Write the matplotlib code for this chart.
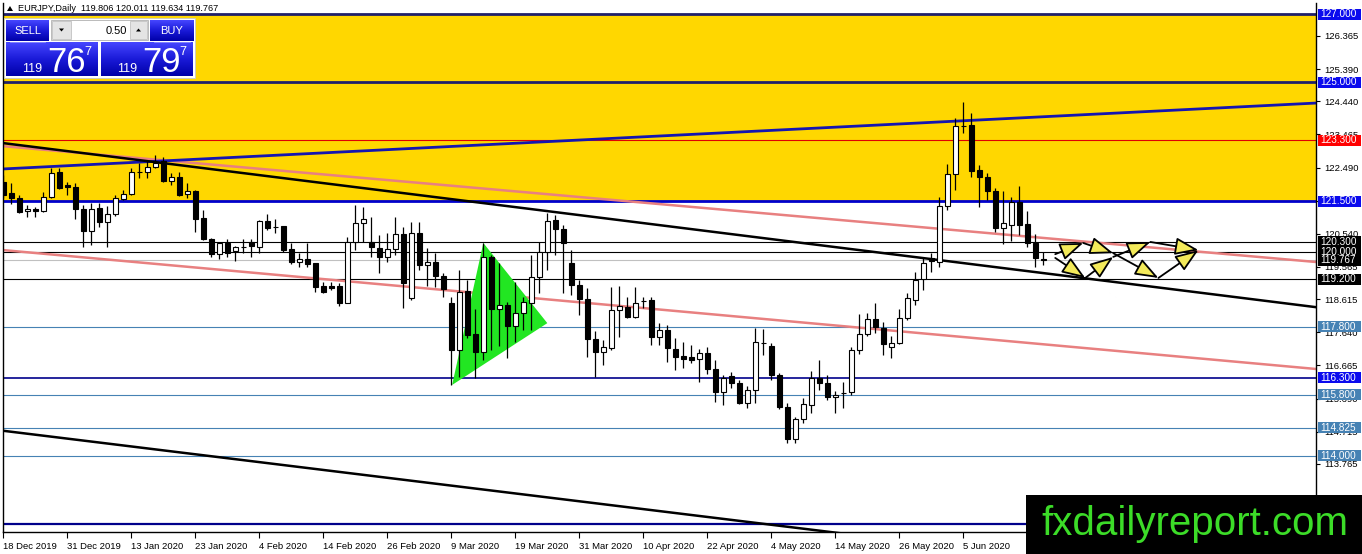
import numpy as np
import matplotlib
matplotlib.use("Agg")
import matplotlib.pyplot as plt
from matplotlib.patches import Rectangle, Polygon, FancyArrowPatch
from matplotlib.colors import LinearSegmentedColormap
from matplotlib.transforms import blended_transform_factory

# ---------------- data ----------------
date_labels = ['18 Dec 2019', '31 Dec 2019', '13 Jan 2020', '23 Jan 2020', '4 Feb 2020',
               '14 Feb 2020', '26 Feb 2020', '9 Mar 2020', '19 Mar 2020', '31 Mar 2020',
               '10 Apr 2020', '22 Apr 2020', '4 May 2020', '14 May 2020', '26 May 2020',
               '5 Jun 2020']

opens = [122.07, 121.74, 121.59, 121.21, 121.27, 121.21, 121.62, 122.36, 121.98, 121.92,
         121.27, 120.62, 121.30, 120.89, 121.12, 121.56, 121.71, 122.35, 122.36, 122.51,
         122.68, 122.10, 122.21, 121.71, 121.80, 121.01, 120.39, 119.94, 120.27, 120.03,
         120.15, 120.30, 120.15, 120.92, 120.74, 120.77, 120.09, 119.71, 119.80, 119.68,
         119.00, 119.00, 119.00, 118.50, 120.30, 120.86, 120.30, 120.12, 119.86, 120.09,
         120.53, 118.65, 120.56, 119.62, 119.71, 119.30, 118.50, 117.12, 118.86, 117.59,
         117.06, 119.86, 118.33, 118.45, 117.83, 118.21, 118.50, 119.27, 120.00, 120.95,
         120.68, 119.68, 119.03, 118.62, 117.45, 117.06, 117.18, 118.30, 118.39, 118.09,
         118.55, 118.59, 117.51, 117.71, 117.15, 116.95, 116.92, 116.86, 117.03, 116.56,
         115.89, 116.36, 116.15, 115.56, 115.94, 117.33, 117.24, 116.39, 115.44, 114.50,
         115.09, 115.50, 116.30, 116.15, 115.74, 115.85, 115.89, 117.12, 117.59, 118.03,
         117.77, 117.21, 117.33, 118.06, 118.59, 119.21, 119.83, 119.71, 121.36, 122.30,
         123.71, 123.74, 122.42, 122.21, 121.80, 120.71, 120.80, 121.48, 120.83, 120.27,
         119.806]
highs = [122.27, 122.04, 121.68, 121.39, 121.33, 121.77, 122.48, 122.48, 122.07, 122.04,
         121.39, 121.45, 121.45, 121.36, 121.68, 121.83, 122.48, 122.62, 122.68, 122.86,
         122.80, 122.33, 122.36, 122.04, 121.83, 121.24, 120.42, 120.30, 120.39, 120.18,
         120.39, 120.39, 120.95, 121.12, 120.98, 120.77, 120.27, 119.97, 120.27, 119.68,
         119.12, 119.12, 119.09, 120.45, 121.39, 121.33, 121.03, 120.51, 120.56, 121.03,
         120.74, 120.89, 120.89, 120.12, 119.97, 119.39, 118.68, 119.48, 119.18, 118.33,
         120.27, 119.92, 119.68, 118.53, 119.12, 118.68, 119.92, 120.30, 121.15, 121.09,
         120.80, 120.06, 119.18, 118.95, 117.68, 117.42, 118.97, 119.00, 118.68, 118.97,
         118.68, 118.68, 117.92, 117.86, 117.48, 117.36, 117.27, 117.15, 117.21, 116.83,
         116.39, 116.47, 116.24, 116.06, 117.77, 117.74, 117.33, 116.45, 115.56, 115.15,
         115.71, 116.50, 116.83, 116.39, 115.91, 116.18, 117.21, 118.18, 118.21, 118.50,
         117.95, 117.54, 118.33, 118.80, 119.42, 119.86, 119.97, 121.62, 122.60, 123.95,
         124.42, 124.10, 122.57, 122.33, 121.89, 121.80, 121.62, 121.95, 121.21, 120.53,
         120.011]
lows = [121.59, 121.42, 121.15, 121.03, 121.03, 121.18, 121.59, 121.86, 121.68, 120.98,
        120.15, 120.21, 120.74, 120.15, 121.06, 121.54, 121.68, 122.19, 122.19, 122.48,
        122.07, 121.98, 121.65, 121.59, 120.59, 120.36, 119.86, 119.80, 119.86, 119.74,
        119.97, 119.86, 119.97, 120.65, 120.56, 120.00, 119.65, 119.56, 119.56, 118.83,
        118.80, 118.89, 118.41, 118.50, 120.06, 120.30, 119.86, 119.39, 119.71, 119.91,
        118.36, 118.59, 119.48, 119.00, 118.97, 118.68, 116.09, 116.33, 117.48, 116.30,
        116.83, 117.12, 117.24, 116.89, 117.36, 117.71, 117.71, 118.80, 119.48, 119.91,
        118.80, 118.74, 118.15, 116.92, 116.33, 116.68, 117.12, 117.51, 118.06, 118.06,
        118.36, 117.27, 117.27, 116.77, 116.53, 116.59, 116.74, 116.18, 116.42, 115.59,
        115.50, 116.00, 115.53, 115.42, 115.56, 116.97, 116.24, 115.38, 114.38, 114.38,
        114.97, 115.27, 115.94, 115.65, 115.27, 115.42, 115.80, 117.00, 117.53, 117.62,
        116.97, 116.89, 117.30, 118.00, 118.45, 118.89, 119.42, 119.56, 121.24, 121.83,
        123.51, 122.21, 121.33, 121.54, 120.59, 120.24, 120.33, 120.50, 120.15, 119.56,
        119.634]
closes = [121.68, 121.59, 121.18, 121.27, 121.21, 121.62, 122.33, 121.89, 121.92, 121.27,
          120.62, 121.27, 120.89, 121.12, 121.59, 121.71, 122.36, 122.36, 122.51, 122.62,
          122.10, 122.21, 121.68, 121.80, 120.98, 120.39, 119.94, 120.27, 119.97, 120.15,
          120.14, 120.18, 120.92, 120.71, 120.73, 120.06, 119.71, 119.80, 119.65, 118.97,
          118.83, 118.94, 118.50, 120.30, 120.86, 120.98, 120.15, 119.86, 120.09, 120.53,
          119.09, 120.56, 119.62, 119.71, 119.30, 118.92, 117.12, 118.83, 117.56, 117.06,
          119.86, 118.33, 118.45, 117.83, 118.21, 118.53, 119.27, 120.00, 120.92, 120.68,
          120.27, 119.03, 118.62, 117.45, 117.06, 117.21, 118.30, 118.42, 118.09, 118.50,
          118.56, 117.51, 117.71, 117.18, 116.92, 116.86, 116.83, 117.03, 116.56, 115.89,
          116.30, 116.15, 115.56, 115.94, 117.36, 117.32, 116.39, 115.44, 114.50, 115.09,
          115.53, 116.30, 116.15, 115.74, 115.80, 115.86, 117.12, 117.59, 118.03, 117.80,
          117.30, 117.33, 118.06, 118.65, 119.18, 119.68, 119.74, 121.36, 122.30, 123.71,
          123.70, 122.39, 122.21, 121.80, 120.71, 120.86, 121.48, 120.80, 120.27, 119.83,
          119.767]

# horizontal levels: value, line colour, line width, label box colour
levels = [127.000, 125.000, 123.300, 121.500, 120.300, 120.000, 119.767, 119.200,
          117.800, 116.300, 115.800, 114.825, 114.000, 112.000]
level_line_colors = ['#20206a', '#20206a', '#e00000', '#0000cc', 'black', 'black', '#c0c0c0',
                     'black', '#4682b4', '#00008b', '#4682b4', '#4682b4', '#4682b4', '#00008b']
level_line_widths = [2.0, 2.0, 0.8, 2.0, 0.8, 0.8, 0.8, 0.8, 0.8, 1.2, 0.8, 0.8, 0.8, 1.6]
level_box_colors = ['#0a0aee', '#0a0aee', '#ff0000', '#0a0aee', 'black', 'black', 'black',
                    'black', '#4682b4', '#0a0aee', '#4682b4', '#4682b4', '#4682b4', '#0a0aee']

ytick_values = [126.365, 125.390, 124.440, 123.465, 122.490, 121.515, 120.540, 119.565,
                118.615, 117.640, 116.665, 115.690, 114.715, 113.765, 112.790]

# trend lines (bar index, price)
trend_x = [0.0, 164.1]
blue_line_y = [122.45, 124.39]
black_upper_y = [123.21, 118.38]
pink_upper_y = [123.12, 119.71]
pink_lower_y = [120.06, 116.56]
black_lower_y = [114.74, 110.01]

# green triangle vertices
tri_x = [56.1, 60.0, 68.0]
tri_y = [116.09, 120.27, 117.91]

# arrows
arrow_x0 = [131.5, 131.5, 135.0, 135.25, 138.75, 138.75, 143.4, 144.4]
arrow_y0 = [119.94, 119.83, 120.27, 119.24, 119.97, 119.86, 120.30, 119.24]
arrow_x1 = [135.0, 135.25, 138.75, 138.75, 144.4, 143.4, 149.4, 149.4]
arrow_y1 = [120.27, 119.24, 119.97, 119.86, 119.24, 120.30, 120.06, 120.06]

# ---------------- figure ----------------
W, H = 1362, 554
fig = plt.figure(figsize=(W / 100, H / 100), dpi=100)
fig.patch.set_facecolor('white')
FONT = 'Liberation Sans'

ax = fig.add_axes([3 / W, 22 / H, 1313 / W, 529 / H])
ax.set_xlim(-0.05, 164.1)
ax.set_ylim(111.76, 127.336)
ax.set_facecolor('white')

# yellow zone
ax.axhspan(121.5, 127.0, color='#ffd700', zorder=0, lw=0)

# horizontal levels and labels (boxes in right margin)
btrans = blended_transform_factory(ax.transAxes, ax.transData)
px_x = 1.0 / 1313.0
px_y = (127.336 - 111.76) / 529.0
for v, lc, lw, bc in zip(levels, level_line_colors, level_line_widths, level_box_colors):
    ax.axhline(v, color=lc, lw=lw, zorder=1)
    ax.add_patch(Rectangle((1 + 2 * px_x, v - 5.5 * px_y), 43 * px_x, 11 * px_y,
                           transform=btrans, fc=bc, ec='none', clip_on=False, zorder=20))
    ax.text(1 + 4 * px_x, v, f'{v:.3f}', transform=btrans, va='center', ha='left',
            color='white', fontsize=7.2, family=FONT, clip_on=False, zorder=21)

# trend lines
ax.plot(trend_x, pink_upper_y, color='#e88080', lw=1.8, zorder=2)
ax.plot(trend_x, pink_lower_y, color='#e88080', lw=1.8, zorder=2)
ax.plot(trend_x, blue_line_y, color='#1515b0', lw=2.0, zorder=2)
ax.plot(trend_x, black_upper_y, color='black', lw=1.8, zorder=2)
ax.plot(trend_x, black_lower_y, color='black', lw=1.8, zorder=2)

# green triangle
ax.add_patch(Polygon(list(zip(tri_x, tri_y)), closed=True, fc='#22e622', ec='none', zorder=2.5))

# candles
x = np.arange(len(opens))
o = np.array(opens); h = np.array(highs); l = np.array(lows); c = np.array(closes)
ax.vlines(x, l, h, color='black', lw=0.9, zorder=3)
bull = c >= o
body_bottom = np.minimum(o, c)
body_h = np.maximum(np.abs(c - o), 0.012)
ax.bar(x[bull], body_h[bull], bottom=body_bottom[bull], width=0.62, color='white',
       edgecolor='black', lw=0.8, zorder=3.5)
ax.bar(x[~bull], body_h[~bull], bottom=body_bottom[~bull], width=0.62, color='black',
       edgecolor='black', lw=0.8, zorder=3.5)

# arrows
for xa, ya, xb, yb in zip(arrow_x0, arrow_y0, arrow_x1, arrow_y1):
    ax.add_patch(FancyArrowPatch((xa, ya), (xb, yb),
                                 arrowstyle='-|>,head_length=1.6,head_width=0.6',
                                 mutation_scale=9, lw=1.3, ec='black', fc='#f3ea5a',
                                 shrinkA=0, shrinkB=0, zorder=5))

# axes styling
ax.spines['top'].set_visible(False)
for s in ['left', 'right', 'bottom']:
    ax.spines[s].set_color('black')
    ax.spines[s].set_linewidth(1.0)

ax.yaxis.tick_right()
ax.set_yticks(ytick_values)
ax.set_yticklabels([f'{v:.3f}' for v in ytick_values], fontsize=6.8, family=FONT)
ax.tick_params(axis='y', length=3, width=0.8, pad=3, colors='black')

ax.set_xticks(np.arange(0, 8 * len(date_labels), 8))
ax.set_xticklabels(date_labels, fontsize=6.8, family=FONT)
for t in ax.get_xticklabels():
    t.set_ha('left')
ax.tick_params(axis='x', length=4, width=0.8, pad=3, colors='black')

# ---------------- overlay (panel, header, watermark) ----------------
ov = fig.add_axes([0, 0, 1, 1])
ov.set_zorder(10)
ov.patch.set_visible(False)
ov.axis('off')

blue_cmap = LinearSegmentedColormap.from_list('b', ['#4646ff', '#1a1ad8', '#0000a8'])
grad = np.linspace(0, 1, 64).reshape(-1, 1)


def gbox(x0, y0, x1, y1):
    ov.imshow(grad, extent=(x0, x1, y1, y0), cmap=blue_cmap, aspect='auto', zorder=2,
              interpolation='bilinear')


# header
ov.add_patch(Polygon([(7, 11), (13, 11), (10, 6)], closed=True, fc='black', ec='none', zorder=3))
ov.text(18, 8.5, 'EURJPY,Daily  119.806 120.011 119.634 119.767', fontsize=6.6, family=FONT,
        va='center', ha='left', color='black', zorder=3)

# trading panel
ov.add_patch(Rectangle((4, 18), 191, 60, fc='white', ec='#c8c8c8', lw=0.6, zorder=1))
gbox(6, 20, 49, 41)
gbox(150, 20, 194, 41)
gbox(6, 42, 98, 76)
gbox(101, 42, 193, 76)
ov.plot([10, 45], [41.5, 41.5], color='#8c8cff', lw=0.6, zorder=3)
ov.plot([154, 190], [41.5, 41.5], color='#8c8cff', lw=0.6, zorder=3)
ov.add_patch(Rectangle((51, 20), 97, 20, fc='white', ec='#b0b0b0', lw=0.6, zorder=2))
ov.add_patch(Rectangle((52, 21), 19, 18, fc='#e4e4e4', ec='#b8b8b8', lw=0.5, zorder=3))
ov.add_patch(Rectangle((130, 21), 17, 18, fc='#e4e4e4', ec='#b8b8b8', lw=0.5, zorder=3))
ov.add_patch(Polygon([(59, 28.5), (64, 28.5), (61.5, 31.5)], closed=True, fc='black', zorder=4))
ov.add_patch(Polygon([(136, 31.5), (141, 31.5), (138.5, 28.5)], closed=True, fc='black', zorder=4))
ov.text(127, 30.5, '0.50', fontsize=8, family=FONT, ha='right', va='center', color='black', zorder=4)
ov.text(27.5, 30.5, 'SELL', fontsize=8, family=FONT, ha='center', va='center', color='white', zorder=4)
ov.text(172, 30.5, 'BUY', fontsize=8, family=FONT, ha='center', va='center', color='white', zorder=4)

ov.text(22, 72, '119', fontsize=9, family=FONT, ha='left', va='baseline', color='white', zorder=4)
ov.text(47, 72, '76', fontsize=25, family=FONT, ha='left', va='baseline', color='white', zorder=4)
ov.text(84, 55, '7', fontsize=9, family=FONT, ha='left', va='baseline', color='white', zorder=4)
ov.text(117, 72, '119', fontsize=9, family=FONT, ha='left', va='baseline', color='white', zorder=4)
ov.text(142, 72, '79', fontsize=25, family=FONT, ha='left', va='baseline', color='white', zorder=4)
ov.text(179, 55, '7', fontsize=9, family=FONT, ha='left', va='baseline', color='white', zorder=4)

# watermark
ov.add_patch(Rectangle((1026, 495), 336, 59, fc='black', ec='none', zorder=5))
ov.text(1041, 535, 'fxdailyreport.com', fontsize=29, family=FONT, ha='left', va='baseline',
        color='#3cdc28', zorder=6)

ov.set_xlim(0, W)
ov.set_ylim(H, 0)

fig.savefig('out.png', dpi=100)
